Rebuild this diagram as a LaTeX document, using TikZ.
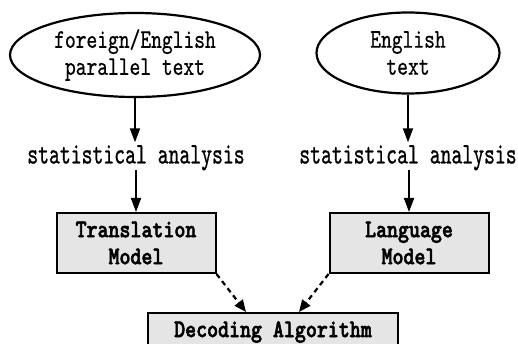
\documentclass[tikz,border=0pt]{standalone}
\usepackage{fontspec}
\newfontfamily\statfont{lmmono10-regular.otf}[FakeStretch=0.69,FakeBold=0.8]
\newfontfamily\ellfont{lmmono10-regular.otf}[FakeStretch=0.76,FakeBold=0.6]
\newfontfamily\boxfont{lmmonolt10-bold.otf}[FakeStretch=0.82,FakeBold=2]
\usetikzlibrary{shapes.geometric,arrows.meta}
\begin{document}
\begin{tikzpicture}[x=1pt,y=-1pt,
  ell/.style={ellipse,draw,line width=2.2pt,align=center,inner sep=0pt,
    font=\fontsize{27}{27}\ellfont},
  box/.style={rectangle,draw,line width=2pt,fill=black!10,align=center,inner sep=0pt,
    font=\fontsize{25.5}{27}\boxfont},
  lbl/.style={font=\fontsize{30}{30}\statfont,inner sep=0pt},
  arr/.style={line width=1.8pt,-{Triangle[length=14pt,width=10pt]}},
  darr/.style={line width=2.2pt,dash pattern=on 5pt off 4pt,-{Triangle[length=12pt,width=10pt]}}]
\useasboundingbox (0,0) rectangle (518,344);
\node[ell,minimum width=250pt,minimum height=84pt] (fe) at (135,55) {foreign/English\\parallel text};
\node[ell,minimum width=183pt,minimum height=81pt] (et) at (408,53) {English\\text};
\node[lbl,text depth=6pt,text height=21pt] (sa1) at (136,156) {statistical analysis};
\node[lbl,text depth=6pt,text height=21pt] (sa2) at (408,156) {statistical analysis};
\node[box,minimum width=159pt,minimum height=60pt] (tm) at (136,243) {Translation\\Model};
\node[box,minimum width=159pt,minimum height=60pt] (lm) at (409,243) {Language\\Model};
\node[box,minimum width=250pt,minimum height=38pt,anchor=north] (da) at (273,312) {Decoding Algorithm};
\draw[arr] (fe.south) -- (fe.south |- sa1.north);
\draw[arr] (et.south) -- (et.south |- sa2.north);
\draw[arr] (tm.north |- sa1.south) -- (tm.north);
\draw[arr] (lm.north |- sa2.south) -- (lm.north);
\draw[darr] (tm.south east) -- ([xshift=-27pt]da.north);
\draw[darr] (lm.south west) -- ([xshift=26pt]da.north);
\end{tikzpicture}
\end{document}
